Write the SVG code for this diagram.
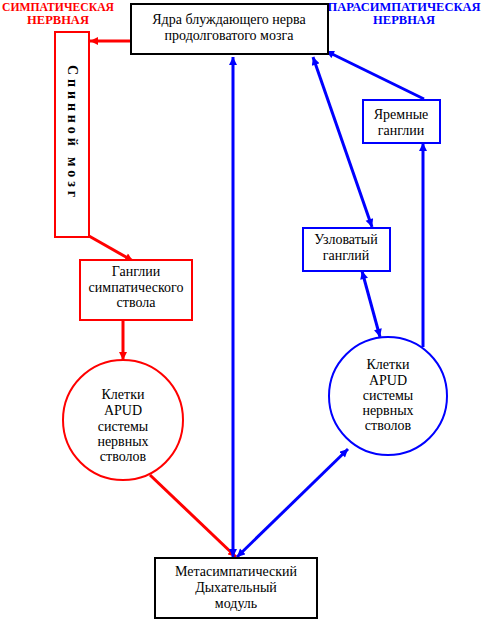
<svg xmlns="http://www.w3.org/2000/svg" width="484" height="620" viewBox="0 0 484 620">
<style>
.t{font-size:14px;fill:#000;text-anchor:middle}
.hdr{font-weight:bold;font-size:12.5px}
.r{fill:#ff0000}
.b{fill:#0000ff}
.bx{fill:#fff;stroke-width:2}
.ln{fill:none;stroke-width:3}
</style>
<defs>
<marker id="ar" viewBox="0 0 10 10" refX="10" refY="5" markerWidth="9" markerHeight="8" markerUnits="userSpaceOnUse" orient="auto-start-reverse"><path d="M0,0L10,5L0,10z" fill="#ff0000"/></marker>
<marker id="ab" viewBox="0 0 10 10" refX="10" refY="5" markerWidth="9" markerHeight="8" markerUnits="userSpaceOnUse" orient="auto-start-reverse"><path d="M0,0L10,5L0,10z" fill="#0000ff"/></marker>
</defs>
<g font-family="Liberation Serif, DejaVu Serif, serif">
<text class="t hdr r" x="58" y="11" textLength="112" lengthAdjust="spacingAndGlyphs">СИМПАТИЧЕСКАЯ</text>
<text class="t hdr r" x="58" y="24">НЕРВНАЯ</text>
<text class="t hdr b" x="404" y="11">ПАРАСИМПАТИЧЕСКАЯ</text>
<text class="t hdr b" x="404" y="24">НЕРВНАЯ</text>
</g>
<g id="connectors">
<line class="ln" stroke="#ff0000" x1="131" y1="41" x2="90" y2="41" marker-end="url(#ar)"/>
<line class="ln" stroke="#ff0000" x1="89" y1="236" x2="133" y2="261" marker-end="url(#ar)"/>
<line class="ln" stroke="#ff0000" x1="123" y1="320" x2="123" y2="360" marker-end="url(#ar)"/>
<line class="ln" stroke="#ff0000" x1="150" y1="475" x2="236" y2="557" marker-end="url(#ar)"/>
<line class="ln" stroke="#0000ff" x1="233" y1="557" x2="233" y2="57" marker-start="url(#ab)" marker-end="url(#ab)"/>
<line class="ln" stroke="#0000ff" x1="237" y1="557" x2="348" y2="449" marker-start="url(#ab)" marker-end="url(#ab)"/>
<line class="ln" stroke="#0000ff" x1="424" y1="99" x2="326" y2="51" marker-end="url(#ab)"/>
<line class="ln" stroke="#0000ff" x1="423" y1="347" x2="423" y2="143" marker-end="url(#ab)"/>
<line class="ln" stroke="#0000ff" x1="313" y1="57" x2="372" y2="227" marker-start="url(#ab)" marker-end="url(#ab)"/>
<line class="ln" stroke="#0000ff" x1="362" y1="271" x2="380" y2="337" marker-start="url(#ab)" marker-end="url(#ab)"/>
</g>
<g font-family="Liberation Serif, DejaVu Serif, serif">
<g id="vagus">
<rect class="bx" x="131" y="4" width="197" height="50" stroke="#000"/>
<text class="t" x="229" y="24">Ядра блуждающего нерва</text>
<text class="t" x="229" y="40">продолговатого мозга</text>
</g>
<g id="spinal">
<rect class="bx" x="55" y="32" width="34" height="205" stroke="#ff0000"/>
<text class="t" transform="translate(68,131) rotate(90)" x="0" y="0" font-weight="bold" font-size="13" textLength="132" lengthAdjust="spacing">Спинной мозг</text>
</g>
<g id="sym-ganglia">
<rect class="bx" x="80" y="260" width="112" height="60" stroke="#ff0000"/>
<text class="t" x="136" y="276">Ганглии</text>
<text class="t" x="136" y="292">симпатического</text>
<text class="t" x="136" y="307">ствола</text>
</g>
<g id="apud-red">
<circle cx="123" cy="420" r="60" fill="#fff" stroke="#ff0000" stroke-width="2"/>
<text class="t" x="123" y="399">Клетки</text>
<text class="t" x="123" y="415">APUD</text>
<text class="t" x="123" y="431">системы</text>
<text class="t" x="123" y="446">нервных</text>
<text class="t" x="123" y="461">стволов</text>
</g>
<g id="jugular">
<rect class="bx" x="363" y="100" width="77" height="43" stroke="#0000ff" stroke-width="3"/>
<text class="t" x="401" y="119">Яремные</text>
<text class="t" x="401" y="135">ганглии</text>
</g>
<g id="nodose">
<rect class="bx" x="303" y="228" width="87" height="43" stroke="#0000ff" stroke-width="3"/>
<text class="t" x="346" y="244">Узловатый</text>
<text class="t" x="346" y="260">ганглий</text>
</g>
<g id="apud-blue">
<circle cx="388" cy="396" r="59" fill="#fff" stroke="#0000ff" stroke-width="2"/>
<text class="t" x="388" y="369">Клетки</text>
<text class="t" x="388" y="385">APUD</text>
<text class="t" x="388" y="400">системы</text>
<text class="t" x="388" y="415">нервных</text>
<text class="t" x="388" y="430">стволов</text>
</g>
<g id="module">
<rect class="bx" x="155" y="558" width="162" height="60" stroke="#000"/>
<text class="t" x="236" y="576">Метасимпатический</text>
<text class="t" x="236" y="592">Дыхательный</text>
<text class="t" x="236" y="608">модуль</text>
</g>
</g>
</svg>
